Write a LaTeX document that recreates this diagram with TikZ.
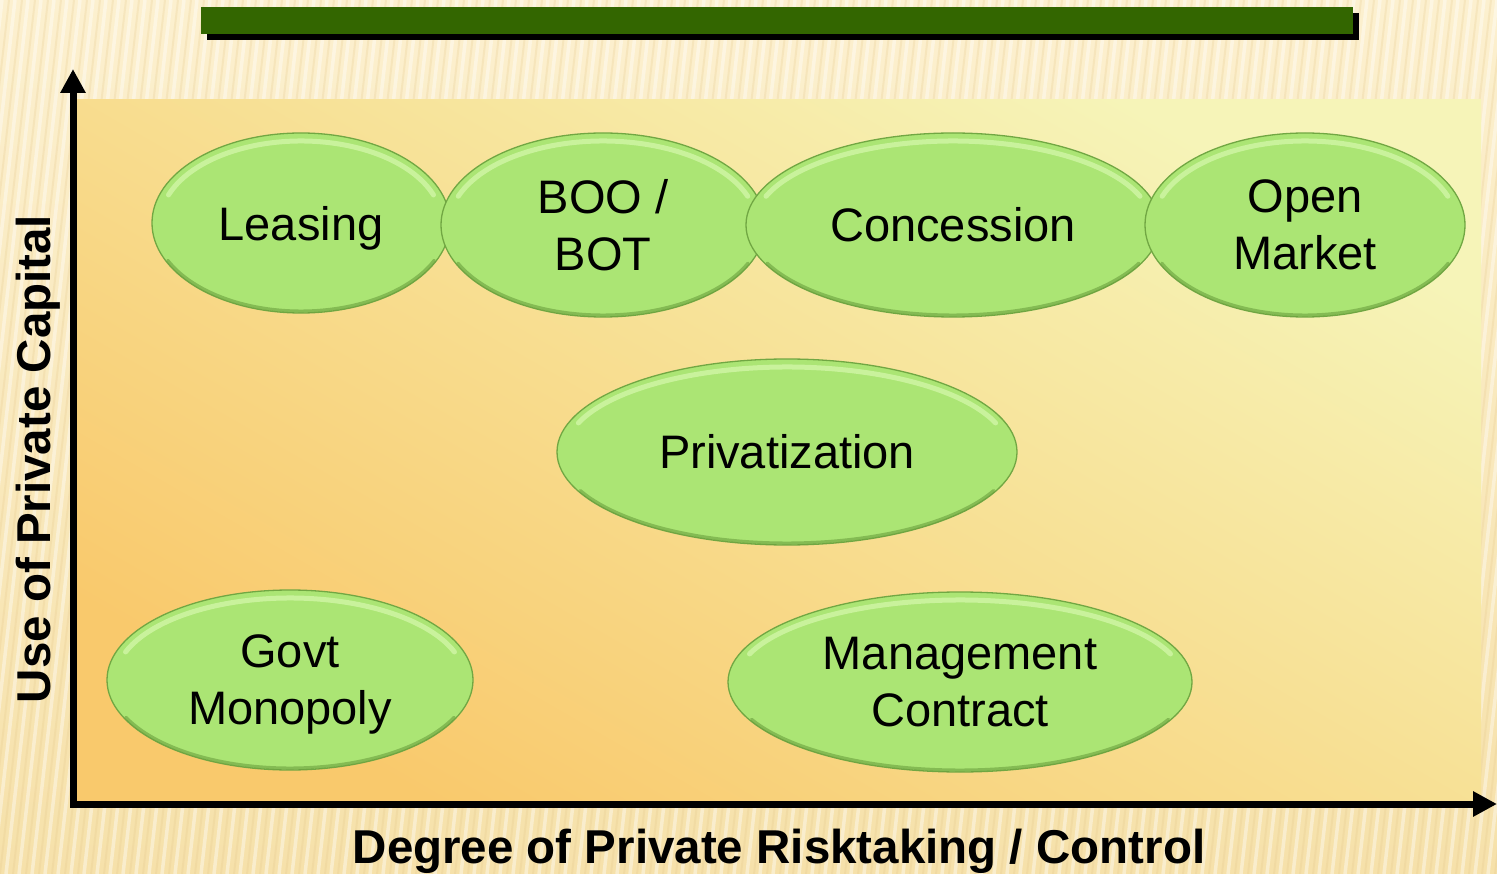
\documentclass[tikz,border=0pt]{standalone}
\usepackage{fontspec}
\setmainfont{Liberation Sans}
\usetikzlibrary{shapes.geometric,arrows.meta}

\definecolor{bgtop}{HTML}{FCF0CF}
\definecolor{bgbot}{HTML}{F6E1AA}
\definecolor{bgstripe}{HTML}{E6C98C}
\definecolor{panelwarm}{HTML}{F9C96C}
\definecolor{panelpale}{HTML}{F6F4B8}
\definecolor{barGreen}{HTML}{336600}
\definecolor{ovalFill}{HTML}{ABE574}
\definecolor{ovalEdge}{HTML}{5E9233}
\definecolor{ovalLight}{HTML}{D4F7AA}

\tikzset{
  oval/.style={ellipse, fill=ovalFill, draw=ovalEdge!75!ovalFill, line width=1.3pt,
    inner sep=0pt, align=center, text=black, font=\fontsize{47}{57}\selectfont},
  ovalshine/.style={ovalLight, line width=5pt, opacity=.75, line cap=round},
  ovalshade/.style={ovalEdge, line width=3pt, opacity=.5, line cap=round},
  axisline/.style={line width=7pt, line join=miter,
    {Triangle[length=24pt,width=24pt]}-{Triangle[length=24pt,width=24pt]}},
  axislabel/.style={font=\bfseries\fontsize{47.5}{57}\selectfont, inner sep=0pt},
}

% [extra node options] name, centre x, centre y, x radius, y radius, text
\newcommand\ovalbox[7][]{%
  \node[oval, minimum width=2*#5, minimum height=2*#6, #1] (#2) at (#3,#4) {#7};
  \draw[ovalshine] ([shift={(200:#5-8 and #6-8)}]#3,#4)
    arc[start angle=200, end angle=340, x radius=#5-8, y radius=#6-8];
  \draw[ovalshade] ([shift={(25:#5-2 and #6-2)}]#3,#4)
    arc[start angle=25, end angle=155, x radius=#5-2, y radius=#6-2];
}

\begin{document}
\begin{tikzpicture}[x=1pt,y=-1pt]
  \useasboundingbox (0,0) rectangle (1497,874);

  % striped backdrop
  \shade[top color=bgtop, bottom color=bgbot] (0,0) rectangle (1497,874);
  \begin{scope}
    \clip (0,0) rectangle (1497,874);
    \foreach \i in {-150,-137,...,1500} {
      \draw[white, opacity=.4, line width=3.5pt] (\i,874) -- (\i+100,0);
      \draw[bgstripe, opacity=.25, line width=2pt] (\i+7,874) -- (\i+107,0);
    }
  \end{scope}

  % title bar with its shadow
  \fill[black] (207,13) rectangle (1359,40);
  \fill[barGreen] (201,7) rectangle (1353,34);

  % plot panel
  \shade[top color=panelpale, bottom color=panelwarm, shading angle=-30]
    (77,100) rectangle (1481,804);

  % axes
  \coordinate (origin) at (73,804);
  \coordinate (ytip) at (73,69);
  \coordinate (xtip) at (1497,804);
  \draw[axisline] (ytip) -- (origin) -- (xtip);

  \node[axislabel, rotate=90] (ylab) at (38,459) {Use of Private Capital};
  \node[axislabel] (xlab) at (779,851) {Degree of Private Risktaking / Control};

  % options
  \ovalbox[text depth=0pt]{leasing}{301}{223}{149}{90}{Leasing}
  \ovalbox{boo}{603}{225}{162}{92}{BOO /\\BOT}
  \ovalbox{concession}{953}{225}{207}{92}{Concession}
  \ovalbox{openmarket}{1305}{225}{160}{92}{Open\\Market}
  \ovalbox{privatization}{787}{452}{230}{93}{Privatization}
  \ovalbox[text depth=0pt]{govt}{290}{680}{183}{90}{Govt\\Monopoly}
  \ovalbox{mgmt}{960}{682}{232}{90}{Management\\Contract}
\end{tikzpicture}
\end{document}
